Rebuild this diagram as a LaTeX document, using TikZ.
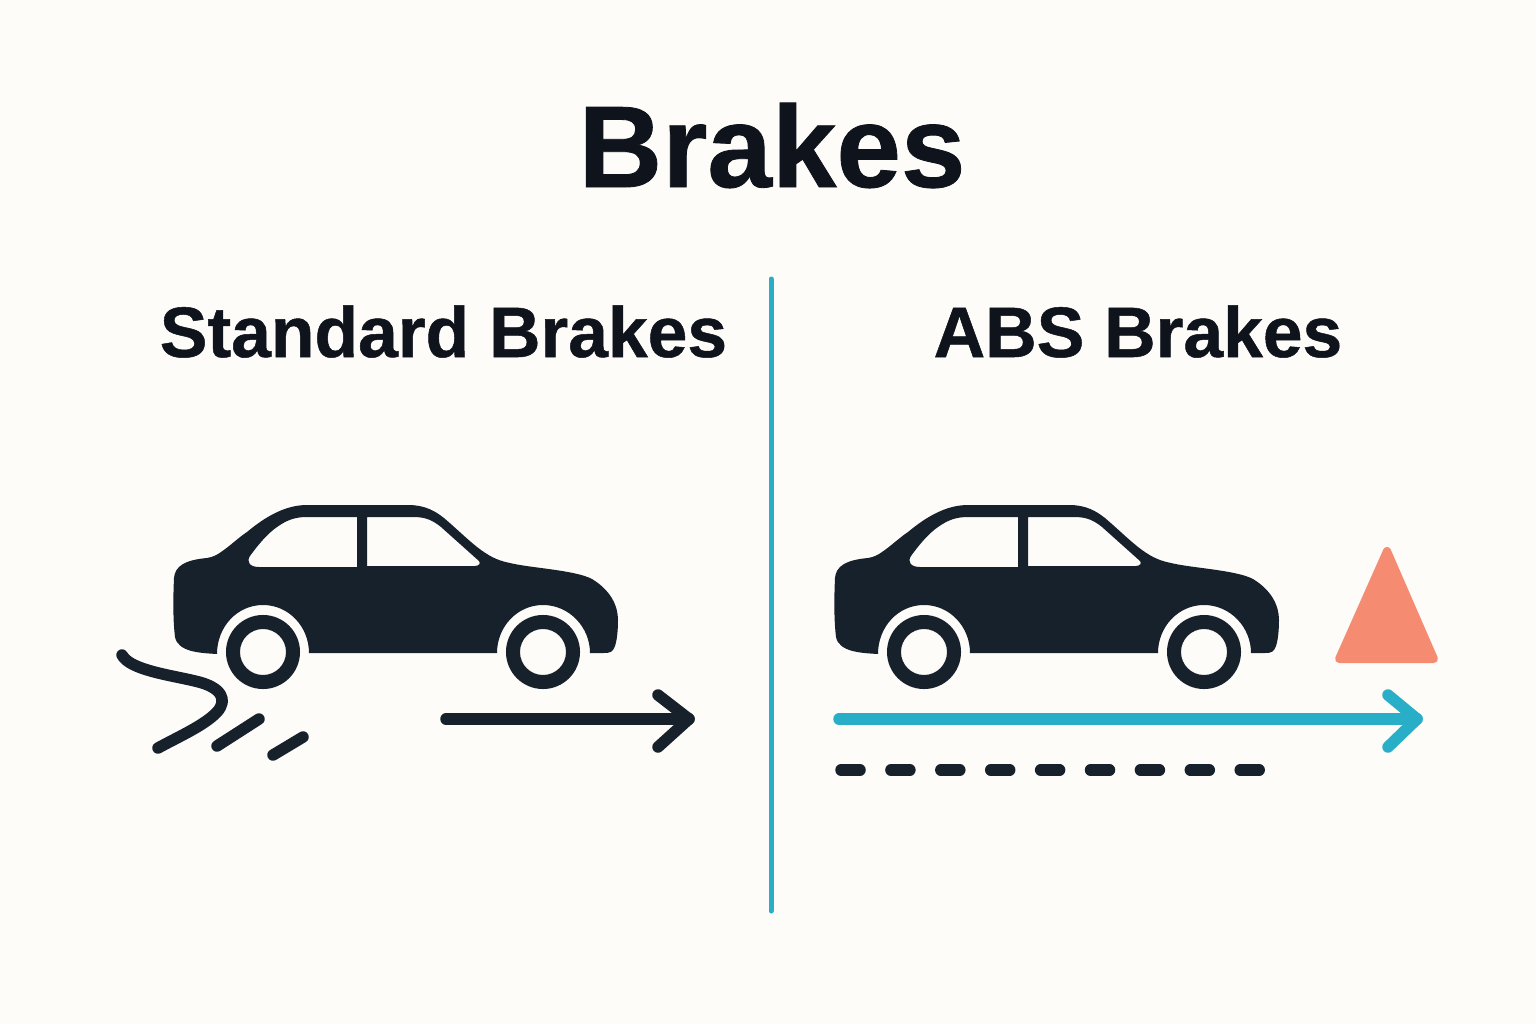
\documentclass[tikz,border=0pt]{standalone}
\usepackage{fontspec}
\setmainfont[BoldFeatures={FakeBold=0.7}]{Liberation Sans}
\definecolor{paper}{HTML}{FDFCF8}
\definecolor{ink}{HTML}{17212B}
\definecolor{titleink}{HTML}{0E131C}
\definecolor{teal}{HTML}{29AEC8}
\definecolor{salmon}{HTML}{F58B71}
\tikzset{
    heading/.style={anchor=base, text=titleink, font=\fontsize{20.3}{21}\selectfont\bfseries},
    stroke/.style={ink, line width=0.115cm, line cap=round, line join=round},
    car/.pic={
        % Body with the two windows cut out
        \fill[ink, even odd rule] (217,654) .. controls (200,653) and (178,652) .. (175,637)
            .. controls (173,620) and (173,600) .. (174,578)
            .. controls (175,566) and (185,560) .. (207,558)
            .. controls (213,557) and (217,555) .. (221,552)
            .. controls (230,546) and (238,538) .. (247,532)
            .. controls (265,517) and (285,505) .. (307,505)
            -- (408,505)
            .. controls (425,505) and (435,511) .. (444,518)
            .. controls (458,530) and (470,542) .. (481,550)
            .. controls (492,558) and (500,561) .. (510,563)
            .. controls (530,568) and (575,570) .. (592,579)
            .. controls (610,590) and (618,605) .. (618,620)
            .. controls (618,630) and (617,640) .. (615,646)
            .. controls (613,652) and (610,653) .. (604,653)
            -- (590,653)
            .. controls (590,627) and (569,605) .. (543,605)
            .. controls (517,605) and (497,627) .. (497,653)
            -- (309,653)
            .. controls (309,627) and (289,605) .. (263,605)
            .. controls (237,605) and (217,627) .. (217,654) -- cycle
            (357,517) -- (357,567) -- (259,567)
            .. controls (250,567) and (246,562) .. (250,556)
            .. controls (258,545) and (267,534) .. (277,527)
            .. controls (287,520) and (295,517) .. (307,517) -- cycle
            (367,517) -- (367,566) -- (475,566)
            .. controls (479,566) and (481,563) .. (479,561)
            -- (441,527)
            .. controls (430,518) and (422,517) .. (412,517) -- cycle;
        % Wheels
        \foreach \x in {263,543}
            \fill[ink, even odd rule] (\x,652) circle[radius=0.37cm] (\x,652) circle[radius=0.23cm];
    }
}
\begin{document}
\begin{tikzpicture}[x=0.01cm, y=-0.01cm]
    \useasboundingbox (0,0) rectangle (1536,1024);
    \fill[paper] (0,0) rectangle (1536,1024);

    % Titles
    \node[anchor=base, text=titleink, font=\fontsize{33}{33}\selectfont\bfseries] (title) at (772,187) {Brakes};
    \node[heading] (standard) at (443.5,357) {Standard Brakes};
    \node[heading] (abs) at (1138,357) {ABS Brakes};

    % Divider
    \coordinate (top) at (771,279);
    \coordinate (bottom) at (771,911);
    \draw[teal, line width=0.05cm, line cap=round] (top) -- (bottom);

    % Cars
    \pic at (0,0) {car};
    \pic at (661,0) {car};

    % Skid marks
    \draw[stroke] (122,655) .. controls (130,670) and (170,675) .. (195,681)
        .. controls (222,687) and (228,700) .. (217,712)
        .. controls (205,725) and (180,736) .. (158,748);
    \coordinate (skidA) at (217,746);
    \coordinate (skidB) at (259,719);
    \coordinate (skidC) at (273,755);
    \coordinate (skidD) at (303,737);
    \draw[stroke] (skidA) -- (skidB);
    \draw[stroke] (skidC) -- (skidD);

    % Standard arrow
    \coordinate (stdstart) at (446,719);
    \coordinate (stdtip) at (689,719);
    \draw[stroke] (stdstart) -- (stdtip);
    \draw[stroke] (658,695) -- (stdtip) -- (658,747);

    % ABS arrow
    \coordinate (absstart) at (839,719);
    \coordinate (abstip) at (1417,719);
    \draw[stroke, teal] (absstart) -- (abstip);
    \draw[stroke, teal] (1388,695) -- (abstip) -- (1388,747);

    % Warning triangle
    \filldraw[salmon, line width=0.08cm, line join=round] (1387,551) -- (1434,659) -- (1339,659) -- cycle;

    % Road dashes
    \foreach \x in {0,...,8}
        \draw[stroke] (841+49.9*\x,770) -- (860+49.9*\x,770);
\end{tikzpicture}
\end{document}
